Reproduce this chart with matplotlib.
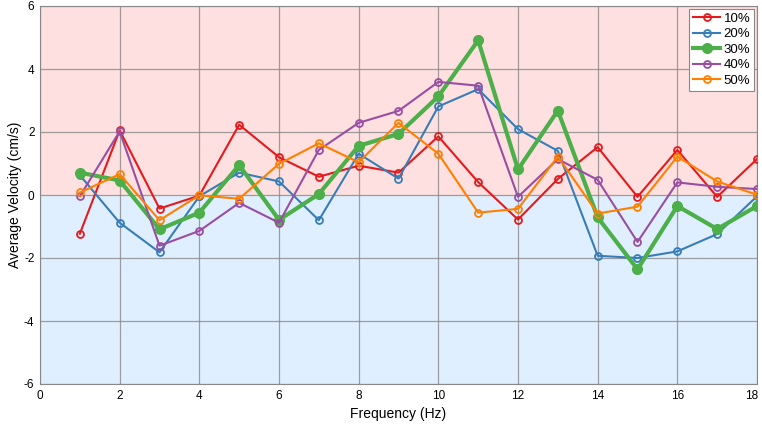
import matplotlib
matplotlib.use("Agg")
import matplotlib.pyplot as plt
from matplotlib.transforms import ScaledTranslation

plt.rcParams['font.family'] = ['Liberation Sans', 'DejaVu Sans']
plt.rcParams['axes.unicode_minus'] = False

freq = list(range(1, 19))
labels = ["10%", "20%", "30%", "40%", "50%"]
v10 = [-1.23, 2.05, -0.43, -0.02, 2.23, 1.20, 0.58, 0.93, 0.71, 1.86, 0.41, -0.78, 0.51, 1.52, -0.06, 1.43, -0.06, 1.14]
v20 = [0.63, -0.88, -1.82, -0.04, 0.71, 0.43, -0.80, 1.31, 0.52, 2.81, 3.36, 2.09, 1.40, -1.93, -2.00, -1.79, -1.24, -0.04]
v30 = [0.71, 0.46, -1.09, -0.56, 0.95, -0.79, 0.03, 1.56, 1.94, 3.13, 4.91, 0.81, 2.68, -0.71, -2.36, -0.35, -1.08, -0.35]
v40 = [-0.04, 2.02, -1.61, -1.14, -0.25, -0.88, 1.43, 2.29, 2.67, 3.59, 3.47, -0.06, 1.14, 0.48, -1.49, 0.40, 0.26, 0.19]
v50 = [0.08, 0.66, -0.80, -0.01, -0.12, 0.99, 1.64, 1.04, 2.29, 1.31, -0.56, -0.44, 1.22, -0.59, -0.37, 1.22, 0.43, 0.01]
series = [v10, v20, v30, v40, v50]
colors = ["#e41a1c", "#377eb8", "#4daf4a", "#984ea3", "#ff7f00"]

fig = plt.figure(figsize=(7.62, 4.24), dpi=100)
ax = fig.add_axes([40/762, 40/424, 717/762, 378/424])
ax.axhspan(0, 6, color="#ffe0e0", zorder=0, lw=0)
ax.axhspan(-6, 0, color="#e0efff", zorder=0, lw=0)

for lab, vals, c in zip(labels, series, colors):
    if lab == "30%":
        ax.plot(freq, vals, color=c, lw=3, marker="o", ms=7, mfc=c, mec=c, label=lab, zorder=3)
    else:
        ax.plot(freq, vals, color=c, lw=1.5, marker="o", ms=5, mfc="none", mec=c, mew=1.3, label=lab, zorder=3)

ax.set_xlim(0, 18)
ax.set_ylim(-6, 6)
ax.set_xticks(range(0, 19, 2))
ax.set_yticks(range(-6, 7, 2))
ax.grid(True, color="#888888", lw=0.9, alpha=0.8, zorder=1)
ax.set_axisbelow(False)
ax.tick_params(labelsize=8.5, length=0, pad=4)
lastlab = ax.get_xticklabels()[-1]
lastlab.set_transform(lastlab.get_transform() + ScaledTranslation(-4/72, 0, fig.dpi_scale_trans))
for s in ax.spines.values():
    s.set_color("#888888")
    s.set_linewidth(0.8)
ax.set_xlabel("Frequency (Hz)", fontsize=10, labelpad=4)
ax.set_ylabel("Average Velocity (cm/s)", fontsize=10)
ax.yaxis.set_label_coords(-0.025, 0.5)
leg = ax.legend(loc="upper right", fontsize=9.5, frameon=True, fancybox=False,
                handlelength=2.0, borderpad=0.3, labelspacing=0.25, handletextpad=0.3,
                borderaxespad=0.2)
leg.get_frame().set_edgecolor("#888888")
leg.get_frame().set_linewidth(0.8)
leg.get_frame().set_alpha(1)
fig.savefig("out.png", dpi=100)
